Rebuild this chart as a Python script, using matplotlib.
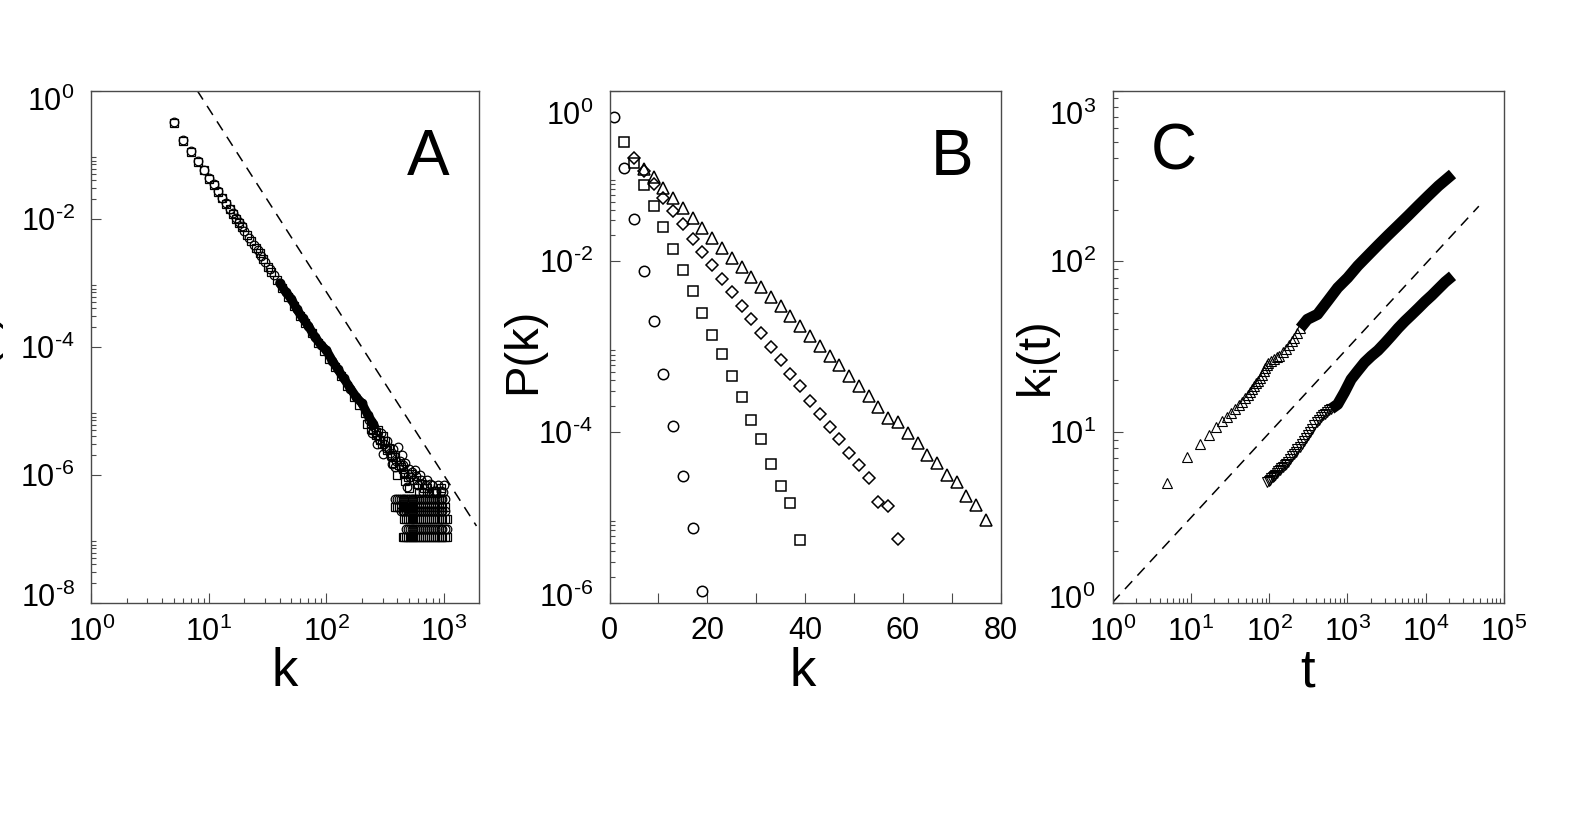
import numpy as np
import matplotlib.pyplot as plt
from matplotlib.ticker import FixedLocator, FuncFormatter, NullFormatter
from matplotlib.transforms import ScaledTranslation

plt.rcParams['font.family'] = ['Liberation Sans', 'DejaVu Sans']
plt.rcParams['mathtext.fontset'] = 'custom'
plt.rcParams['mathtext.rm'] = 'Liberation Sans'
plt.rcParams['mathtext.it'] = 'Liberation Sans'

# ---- panel A: degree distribution, two system sizes (log-log) ----
A_k_circles = [5, 6, 7, 8, 9, 10, 11, 12, 13, 14, 15, 16, 17, 18, 19, 20, 22, 24, 26, 28,
               30, 33, 36, 40, 45, 50, 56, 63, 70, 80, 90, 100, 112, 125, 140, 160, 180,
               200, 225, 250]
A_p_circles = [0.317, 0.168, 0.112, 0.078, 0.058, 0.043, 0.034, 0.027, 0.021, 0.0175,
               0.0143, 0.0120, 0.0102, 8.7e-3, 7.5e-3, 6.4e-3, 5.0e-3, 3.9e-3, 3.2e-3,
               2.6e-3, 2.06e-3, 1.62e-3, 1.29e-3, 9.8e-4, 7.1e-4, 5.6e-4, 3.8e-4, 2.75e-4,
               2.1e-4, 1.4e-4, 1.05e-4, 8.7e-5, 6.0e-5, 4.4e-5, 3.2e-5, 2.2e-5, 1.6e-5,
               1.3e-5, 8.5e-6, 6.2e-6]
A_k_squares = [5, 6, 7, 8, 9, 10, 11, 12, 13, 14, 15, 16, 17, 18, 19, 21, 23, 25, 27, 29,
               32, 34, 38, 42, 47, 53, 60, 66, 75, 85, 95, 106, 118, 132, 150, 170, 190,
               212, 237, 265]
A_p_squares = [0.31, 0.165, 0.110, 0.077, 0.057, 0.042, 0.033, 0.026, 0.0207, 0.0170,
               0.0140, 0.0117, 0.0100, 8.5e-3, 7.3e-3, 5.6e-3, 4.4e-3, 3.5e-3, 2.85e-3,
               2.3e-3, 1.72e-3, 1.45e-3, 1.1e-3, 8.2e-4, 5.9e-4, 4.3e-4, 3.0e-4, 2.35e-4,
               1.6e-4, 1.15e-4, 8.4e-5, 6.3e-5, 4.7e-5, 3.4e-5, 2.4e-5, 1.65e-5, 1.2e-5,
               9.0e-6, 6.3e-6, 4.6e-6]
# noisy tail above the single-count rows
A_tail_k_circles = [230, 243, 255, 267, 270, 280, 290, 305, 310, 320, 330, 345, 351, 358,
                    370, 380, 390, 408, 420, 436, 450, 460, 470, 481, 500, 513, 530, 540,
                    565, 580, 600, 623, 640, 665, 700, 720, 758, 790, 820, 860, 893, 940,
                    984, 1000]
A_tail_p_circles = [7.0e-6, 4.4e-6, 5.5e-6, 3.04e-6, 4.1e-6, 3.6e-6, 4.4e-6, 2.12e-6,
                    3.0e-6, 2.6e-6, 3.3e-6, 2.2e-6, 1.9e-6, 1.48e-6, 2.5e-6, 1.3e-6,
                    1.6e-6, 2.7e-6, 1.65e-6, 2.0e-6, 1.4e-6, 1.1e-6, 1.5e-6, 6.4e-7,
                    1.24e-6, 9.2e-7, 1.1e-6, 8.2e-7, 1.17e-6, 9.6e-7, 6.8e-7, 9.8e-7,
                    8.2e-7, 5.4e-7, 6.8e-7, 8.2e-7, 7.2e-7, 6.8e-7, 5.5e-7, 5.5e-7,
                    6.8e-7, 5.5e-7, 5.4e-7, 6.8e-7]
A_tail_k_squares = [220, 240, 250, 265, 275, 285, 295, 300, 315, 330, 340, 360, 370, 385,
                    400, 410, 430, 445, 460, 470, 490, 500, 520, 560, 590, 610, 650, 680,
                    720, 750, 800, 850, 900, 950]
A_tail_p_squares = [6.2e-6, 5.1e-6, 4.9e-6, 4.1e-6, 5.0e-6, 3.4e-6, 3.0e-6, 4.0e-6,
                    3.3e-6, 2.4e-6, 2.6e-6, 2.0e-6, 1.5e-6, 1.9e-6, 1.0e-6, 1.4e-6,
                    1.3e-6, 1.2e-6, 1.03e-6, 8.0e-7, 9.3e-7, 6.1e-7, 1.03e-6, 8.2e-7,
                    7.2e-7, 5.1e-7, 7.2e-7, 6.1e-7, 6.1e-7, 5.1e-7, 5.1e-7, 5.1e-7,
                    4.1e-7, 6.1e-7]
# horizontal rows of low counts (level, first k, last k)
A_row_k = [385, 400, 415, 430, 445, 460, 475, 490, 510, 530, 550, 570, 590, 615, 640,
           665, 690, 720, 750, 780, 810, 840, 870, 900, 935, 970, 1010, 1050]
A_rows_circles = [(4.1e-7, 383, 1016), (2.72e-7, 422, 1016), (1.39e-7, 465, 1050)]
A_rows_squares = [(3.06e-7, 383, 1016), (2.01e-7, 450, 1050), (1.04e-7, 440, 1050)]
A_fit_k = [7.94, 1888]
A_fit_p = [1.0, 1.57e-7]

# ---- panel B: P(k) for four values of m (semi-log) ----
B_k_circles = [1, 3, 5, 7, 9, 11, 13, 15, 17, 19]
B_p_circles = [0.49, 0.125, 0.0313, 7.7e-3, 1.98e-3, 4.8e-4, 1.17e-4, 3.06e-5, 7.4e-6,
               1.38e-6]
B_k_squares = [3, 5, 7, 9, 11, 13, 15, 17, 19, 21, 23, 25, 27, 29, 31, 33, 35, 37, 39]
B_p_squares = [0.248, 0.141, 0.078, 0.0445, 0.0253, 0.0139, 7.8e-3, 4.45e-3, 2.5e-3,
               1.38e-3, 8.1e-4, 4.5e-4, 2.55e-4, 1.36e-4, 8.3e-5, 4.2e-5, 2.3e-5, 1.45e-5,
               5.4e-6]
B_k_diamonds = [5, 7, 9, 11, 13, 15, 17, 19, 21, 23, 25, 27, 29, 31, 33, 35, 37, 39, 41,
                43, 45, 47, 49, 51, 53, 55, 57, 59]
B_p_diamonds = [0.163, 0.115, 0.080, 0.0545, 0.0387, 0.027, 0.0184, 0.0128, 9.0e-3,
                6.2e-3, 4.3e-3, 2.97e-3, 2.08e-3, 1.45e-3, 9.9e-4, 6.9e-4, 4.8e-4, 3.4e-4,
                2.32e-4, 1.6e-4, 1.15e-4, 8.2e-5, 5.7e-5, 4.1e-5, 2.9e-5, 1.52e-5, 1.35e-5,
                5.6e-6]
B_k_triangles = [7, 9, 11, 13, 15, 17, 19, 21, 23, 25, 27, 29, 31, 33, 35, 37, 39, 41, 43,
                 45, 47, 49, 51, 53, 55, 57, 59, 61, 63, 65, 67, 69, 71, 73, 75, 77]
B_p_triangles = [0.119, 0.0958, 0.0726, 0.0556, 0.0422, 0.0323, 0.0248, 0.01877, 0.01436,
                 0.01089, 8.43e-3, 6.53e-3, 5.0e-3, 3.83e-3, 2.97e-3, 2.30e-3, 1.74e-3,
                 1.31e-3, 1.02e-3, 7.75e-4, 6.0e-4, 4.5e-4, 3.4e-4, 2.64e-4, 1.98e-4,
                 1.47e-4, 1.29e-4, 9.8e-5, 7.3e-5, 5.4e-5, 4.35e-5, 3.13e-5, 2.61e-5,
                 1.78e-5, 1.38e-5, 9.2e-6]

# ---- panel C: k_i(t) for vertices added at t=5 and t=95 ----
C_t_up = [5, 9, 13, 17, 21, 25, 29, 33, 37, 41, 45, 49, 53, 57, 61, 65, 69, 73, 77, 81,
          85, 89, 93, 97, 105, 115, 125, 135, 150, 165, 180, 195, 210, 230, 250]
C_k_up = [5.0, 7.08, 8.47, 9.6, 10.7, 11.6, 12.2, 12.9, 13.6, 14.3, 15.0, 15.7, 16.4,
          17.1, 17.9, 18.6, 19.2, 19.9, 20.6, 21.6, 22.6, 23.6, 24.6, 25.2, 25.9, 26.6,
          27.4, 28.0, 29.3, 30.7, 32.2, 34.0, 35.6, 38.0, 40.5]
C_t_up_dense = [250, 308, 415, 558, 751, 1010, 1360, 1828, 2457, 3305, 4447, 5980, 8050,
                10800, 14560, 22000]
C_k_up_dense = [40.5, 45.6, 48.8, 58.3, 69.8, 80, 94, 108, 124, 142, 162, 185, 212,
                242, 276, 324]
C_t_low = [95, 99, 103, 107, 111, 115, 119, 125, 131, 137, 143, 150, 158, 166, 175, 185,
           195, 205, 218, 230, 245, 260, 278, 296, 315, 335, 358, 380, 405, 430, 460,
           490, 520, 555, 590, 625]
C_k_low = [5.06, 5.15, 5.25, 5.36, 5.45, 5.52, 5.6, 5.74, 5.86, 5.98, 6.1, 6.24, 6.38,
           6.52, 6.7, 6.95, 7.17, 7.38, 7.66, 7.92, 8.2, 8.5, 8.85, 9.2, 9.55, 9.95,
           10.45, 10.9, 11.4, 11.8, 12.2, 12.5, 12.8, 13.1, 13.4, 13.65]
C_t_low_dense = [617, 751, 915, 1115, 1360, 1655, 2018, 2457, 2993, 3648, 4447, 5418,
                 6600, 8050, 9800, 11940, 14560, 17740, 22000]
C_k_low_dense = [13.6, 14.5, 17, 20.3, 22.8, 25.5, 27.8, 30, 33, 36.5, 40.5, 44.5,
                 48.5, 53, 58, 63, 69, 75.5, 82]
C_fit_t = [1, 47700]
C_fit_k = [1, 210]

W, H = 1593, 826
fig = plt.figure(figsize=(W / 100, H / 100), dpi=100)
axA = fig.add_axes([91.4 / W, 1 - 602.5 / H, 388 / W, 512 / H])
axB = fig.add_axes([609.6 / W, 1 - 602.5 / H, 391 / W, 512 / H])
axC = fig.add_axes([1112.5 / W, 1 - 602.5 / H, 391.5 / W, 512 / H])

frame = '#4a4a4a'
# hyphen (not a long minus) in the exponent, as in the original
pow10 = FuncFormatter(lambda v, p: r'$\mathregular{10^{%s}}$'
                      % str(int(round(np.log10(v)))).replace('-', '\u2010'))


def style(ax):
    for s in ax.spines.values():
        s.set_color(frame)
        s.set_linewidth(1.0)
    ax.tick_params(which='both', direction='in', top=False, right=False,
                   color=frame, labelsize=22, width=0.8)
    ax.tick_params(which='major', length=7.5)
    ax.tick_params(which='minor', length=3.8)
    ax.tick_params(axis='y', which='both', pad=12)
    ax.tick_params(axis='x', which='both', pad=10)


def nudge_end_labels(ax, top_px, bottom_px):
    # end labels of the y axis sit inside the frame in the original
    ticks = ax.yaxis.get_major_ticks()
    for tick, dy in ((ticks[0], bottom_px), (ticks[-1], top_px)):
        lab = tick.label1
        lab.set_transform(lab.get_transform()
                          + ScaledTranslation(0, dy / fig.dpi, fig.dpi_scale_trans))


def even_decade_minors(exps):
    return [m * 10.0 ** e for e in exps for m in range(2, 10)]


# --- A ---
mk = dict(ls='none', mfc='none', mec='black', mew=0.9)
axA.plot(A_fit_k, A_fit_p, ls=(0, (7, 5)), color='black', lw=1.1)
band = [(k, p) for k, p in zip(A_k_circles, A_p_circles) if k >= 40]
axA.plot([b[0] for b in band], [b[1] for b in band], color='black', lw=6.5,
         solid_capstyle='round')
axA.plot(A_k_circles, A_p_circles, marker='o', ms=6.2, **mk)
axA.plot(A_k_squares, A_p_squares, marker='s', ms=5.6, **mk)
axA.plot(A_tail_k_circles, A_tail_p_circles, marker='o', ms=6.2, **mk)
axA.plot(A_tail_k_squares, A_tail_p_squares, marker='s', ms=5.6, **mk)
for lev, k0, k1 in A_rows_circles:
    ks = [k for k in A_row_k if k0 <= k <= k1]
    axA.plot(ks, [lev] * len(ks), marker='o', ms=6.2, **mk)
for lev, k0, k1 in A_rows_squares:
    ks = [k for k in A_row_k if k0 <= k <= k1]
    axA.plot(ks, [lev] * len(ks), marker='s', ms=5.6, **mk)
axA.set_xscale('log')
axA.set_yscale('log')
axA.set_xlim(1, 2000)
axA.set_ylim(1e-8, 1)
axA.xaxis.set_major_locator(FixedLocator([1, 10, 100, 1000]))
axA.xaxis.set_minor_locator(FixedLocator([m * 10.0 ** e for e in range(0, 4)
                                          for m in range(2, 10) if m * 10 ** e < 2000]))
axA.yaxis.set_major_locator(FixedLocator([1e-8, 1e-6, 1e-4, 1e-2, 1]))
axA.yaxis.set_minor_locator(FixedLocator(even_decade_minors([-8, -6, -4, -2])))
axA.xaxis.set_major_formatter(pow10)
axA.yaxis.set_major_formatter(pow10)
axA.xaxis.set_minor_formatter(NullFormatter())
axA.yaxis.set_minor_formatter(NullFormatter())
style(axA)
nudge_end_labels(axA, -8, 8)
axA.set_xlabel('k', fontsize=38)
axA.xaxis.set_label_coords(0.498, -0.087)
axA.set_ylabel('P(k)', fontsize=34)
axA.yaxis.set_label_coords(-0.235, 0.49)
axA.text(0.867, 0.835, 'A', transform=axA.transAxes, fontsize=46,
         ha='center', va='baseline')

# --- B ---
mb = dict(ls='none', mfc='none', mec='black', mew=1.1)
axB.plot(B_k_circles, B_p_circles, marker='o', ms=7.5, **mb)
axB.plot(B_k_squares, B_p_squares, marker='s', ms=6.5, **mb)
axB.plot(B_k_diamonds, B_p_diamonds, marker='D', ms=6.3, **mb)
axB.plot(B_k_triangles, B_p_triangles, marker='^', ms=8.0, **mb)
axB.set_yscale('log')
axB.set_xlim(0, 80)
axB.set_ylim(1e-6, 1)
axB.xaxis.set_major_locator(FixedLocator([0, 20, 40, 60, 80]))
axB.xaxis.set_minor_locator(FixedLocator([10, 30, 50, 70]))
axB.yaxis.set_major_locator(FixedLocator([1e-6, 1e-4, 1e-2, 1]))
axB.yaxis.set_minor_locator(FixedLocator(even_decade_minors([-6, -4, -2])))
axB.yaxis.set_major_formatter(pow10)
axB.yaxis.set_minor_formatter(NullFormatter())
style(axB)
axB.tick_params(axis='x', which='minor', length=7.5)
nudge_end_labels(axB, -22, 8)
axB.set_xlabel('k', fontsize=38)
axB.xaxis.set_label_coords(0.494, -0.087)
axB.set_ylabel('P(k)', fontsize=34)
axB.yaxis.set_label_coords(-0.164, 0.492)
axB.text(0.876, 0.835, 'B', transform=axB.transAxes, fontsize=46,
         ha='center', va='baseline')

# --- C ---
mc = dict(mfc='none', mec='black', mew=0.8, ms=7.0)
axC.plot(C_fit_t, C_fit_k, ls=(0, (7, 5)), color='black', lw=1.1)
axC.plot(C_t_up_dense, C_k_up_dense, color='black', lw=8.0, solid_capstyle='butt',
         solid_joinstyle='round')
axC.plot(C_t_low_dense, C_k_low_dense, color='black', lw=8.0, solid_capstyle='butt',
         solid_joinstyle='round')
axC.plot(C_t_up, C_k_up, ls='none', marker='^', **mc)
axC.plot(C_t_low, C_k_low, ls='none', marker='v', **mc)
axC.set_xscale('log')
axC.set_yscale('log')
axC.set_xlim(1, 1e5)
axC.set_ylim(1, 1e3)
axC.xaxis.set_major_locator(FixedLocator([1, 10, 100, 1e3, 1e4, 1e5]))
axC.xaxis.set_minor_locator(FixedLocator([m * 10.0 ** e for e in range(0, 5)
                                          for m in range(2, 10)]))
axC.yaxis.set_major_locator(FixedLocator([1, 10, 100, 1e3]))
axC.yaxis.set_minor_locator(FixedLocator([m * 10.0 ** e for e in range(0, 3)
                                          for m in range(2, 10)]))
axC.xaxis.set_major_formatter(pow10)
axC.yaxis.set_major_formatter(pow10)
axC.xaxis.set_minor_formatter(NullFormatter())
axC.yaxis.set_minor_formatter(NullFormatter())
style(axC)
nudge_end_labels(axC, -22, 6)
axC.set_xlabel('t', fontsize=38)
axC.xaxis.set_label_coords(0.499, -0.087)
axC.set_ylabel(r'k$_\mathregular{i}$(t)', fontsize=34)
axC.yaxis.set_label_coords(-0.127, 0.472)
axC.text(0.156, 0.845, 'C', transform=axC.transAxes, fontsize=46,
         ha='center', va='baseline')

fig.savefig('out.png', dpi=100)
